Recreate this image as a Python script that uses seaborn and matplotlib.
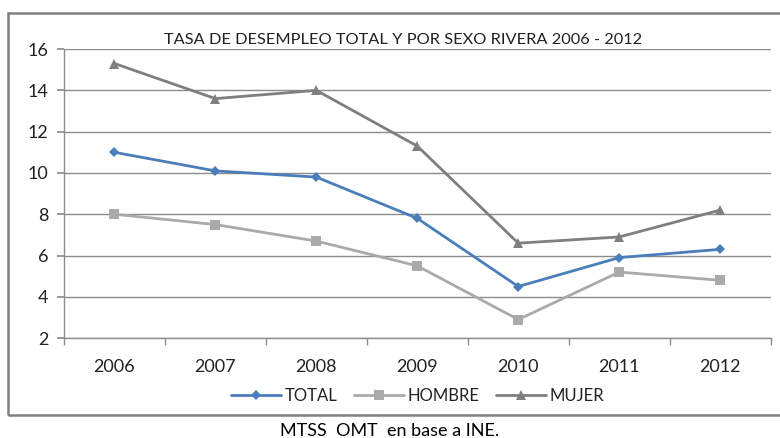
import matplotlib
matplotlib.use('Agg')
import matplotlib.pyplot as plt
import pandas as pd
import seaborn as sns
from matplotlib.patches import Rectangle

years = ['2006', '2007', '2008', '2009', '2010', '2011', '2012']
total = [11.0, 10.1, 9.8, 7.8, 4.5, 5.9, 6.3]
hombre = [8.0, 7.5, 6.7, 5.5, 2.9, 5.2, 4.8]
mujer = [15.3, 13.6, 14.0, 11.3, 6.6, 6.9, 8.2]
y_ticks = [2, 4, 6, 8, 10, 12, 14, 16]

df = pd.DataFrame({
    'year': years * 3,
    'value': total + hombre + mujer,
    'serie': ['TOTAL'] * 7 + ['HOMBRE'] * 7 + ['MUJER'] * 7,
})

sns.set_theme(style='white')
plt.rcParams['font.family'] = ['Lato', 'DejaVu Sans']

fig = plt.figure(figsize=(7.8, 4.38), dpi=100)
ax = fig.add_axes([0.082, 0.228, 0.906, 0.66])

palette = {'TOTAL': '#4a7ebb', 'HOMBRE': '#aaaaaa', 'MUJER': '#7f7f7f'}
markers = {'TOTAL': 'D', 'HOMBRE': 's', 'MUJER': '^'}
sizes = {'TOTAL': 5, 'HOMBRE': 7, 'MUJER': 7}

for name in ['TOTAL', 'HOMBRE', 'MUJER']:
    sub = df[df['serie'] == name]
    sns.lineplot(data=sub, x='year', y='value', ax=ax, color=palette[name],
                 marker=markers[name], markersize=sizes[name], markeredgewidth=0,
                 linewidth=2, sort=False, label=name)

ax.set_xlim(-0.5, len(years) - 0.5)
ax.set_ylim(y_ticks[0], y_ticks[-1])
ax.set_yticks(y_ticks)
ax.set_xticks(range(len(years)))
ax.set_xticklabels(years)
ax.set_xticks([i - 0.5 for i in range(len(years) + 1)], minor=True)
ax.set_xlabel('')
ax.set_ylabel('')
ax.yaxis.grid(True, color='#8c8c8c', linewidth=1)
ax.set_axisbelow(True)

for s in ['top', 'right']:
    ax.spines[s].set_visible(False)
for s in ['left', 'bottom']:
    ax.spines[s].set_color('#8c8c8c')
    ax.spines[s].set_linewidth(1)

ax.tick_params(axis='y', which='major', left=True, length=5, color='#8c8c8c',
               labelsize=13, labelcolor='#222222', pad=6)
ax.tick_params(axis='x', which='major', bottom=False, labelsize=13,
               labelcolor='#222222', pad=9)
ax.tick_params(axis='x', which='minor', bottom=True, length=5, color='#8c8c8c')

ax.set_title('TASA DE DESEMPLEO TOTAL Y POR SEXO RIVERA 2006 - 2012',
             fontsize=11.8, color='#222222', pad=4, x=0.48)

ax.legend(loc='center', bbox_to_anchor=(0.5, -0.2), ncol=3, frameon=False,
          fontsize=12, handlelength=3.0, columnspacing=1.0, handletextpad=0.2)
for t in ax.get_legend().get_texts():
    t.set_color('#222222')

fig.patches.append(Rectangle((8 / 780, 1 - 415 / 438), 1.0, (415 - 13) / 438,
                             transform=fig.transFigure, fill=False,
                             edgecolor='#808080', linewidth=1.8))

fig.text(0.5, 1 - 431 / 438, 'MTSS  OMT  en base a INE.', ha='center',
         va='center', fontsize=13, color='black')

fig.savefig('out.png', dpi=100)
